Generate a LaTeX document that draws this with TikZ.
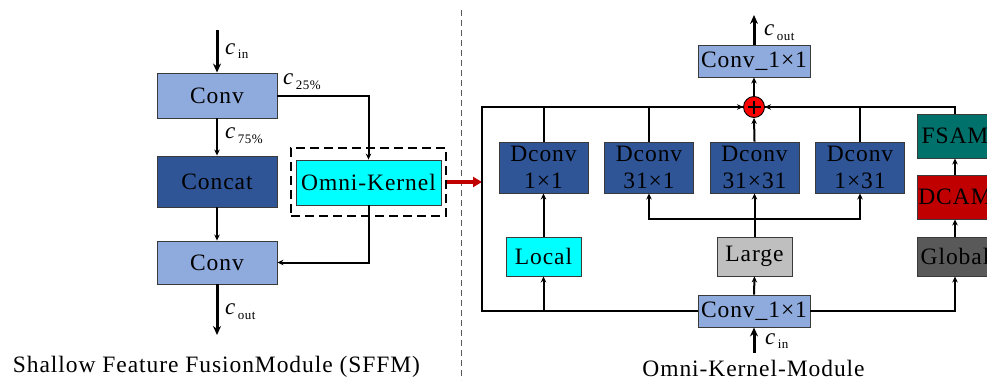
\documentclass[tikz,border=0pt]{standalone}
\usepackage{fontspec}
\setmainfont{Liberation Serif}[LetterSpace=4]
\usetikzlibrary{arrows.meta}
\definecolor{lblue}{HTML}{8FAADC}
\definecolor{dblue}{HTML}{2F5597}
\definecolor{cyanbox}{HTML}{00FFFF}
\definecolor{lgrey}{HTML}{BFBFBF}
\definecolor{dgrey}{HTML}{595959}
\definecolor{tealbox}{HTML}{00716B}
\definecolor{dred}{HTML}{C00000}
\definecolor{edge}{HTML}{3A3A3A}
\newcommand\clab[1]{\textit{c}\hspace{1.5pt}\raisebox{-0.45ex}{\fontsize{13}{13}\selectfont #1}}
\tikzset{
  blk/.style={draw=edge, line width=0.9pt, inner sep=0pt, font=\fontsize{23.5}{27}\selectfont, align=center},
  conn/.style={line width=2pt, -{Stealth[length=6pt,width=5.5pt]}},
  plain/.style={line width=2pt},
  io/.style={line width=3pt, -{Stealth[length=9pt,width=8pt]}},
  lab/.style={anchor=west, inner sep=0pt, font=\fontsize{23}{23}\selectfont},
  title/.style={font=\fontsize{23.5}{26}\selectfont, inner sep=0pt}
}
\begin{document}
\begin{tikzpicture}[x=1pt, y=-1pt]
\useasboundingbox (0,0) rectangle (987,380);
% ---------- left: SFFM ----------
\node[blk, fill=lblue, minimum width=120, minimum height=45] (conv1) at (217,95.5) {Conv};
\node[blk, fill=dblue, minimum width=120, minimum height=51] (concat) at (217,181.5) {Concat};
\node[blk, fill=lblue, minimum width=120, minimum height=43] (conv2) at (217,262.5) {Conv};
\node[blk, fill=cyanbox, minimum width=145, minimum height=45] (omni) at (368.5,182.5) {Omni-Kernel};
\node[draw, dashed, dash pattern=on 9pt off 5pt, line width=1.4pt, minimum width=155, minimum height=68, inner sep=0pt] (okbox) at (368.5,182) {};
\coordinate (cinL) at (217,30);
\coordinate (coutL) at (217,335);
\draw[io] (cinL) -- (conv1.north);
\draw[io] (conv2.south) -- (coutL);
\draw[conn] (conv1.east) -| (omni.north);
\draw[conn] (conv1.south) -- (concat.north);
\draw[conn] (concat.south) -- (conv2.north);
\draw[conn] (omni.south) |- (conv2.east);
\node[lab] (lcin) at (225,51) {\clab{in}};
\node[lab] (l25) at (283,82) {\clab{25\%}};
\node[lab] (l75) at (225,136) {\clab{75\%}};
\node[lab] (lcout) at (225,312) {\clab{out}};
\node[title] (t1) at (216.5,367) {Shallow Feature FusionModule (SFFM)};
% divider
\coordinate (dvt) at (461,10);
\coordinate (dvb) at (461,380);
\draw[gray!70!black, line width=0.9pt, dash pattern=on 6pt off 4pt] (dvt) -- (dvb);
% red arrow
\coordinate (redend) at (482,182);
\draw[dred, line width=3.5pt, -{Triangle[length=9pt,width=10pt]}] (okbox.east) -- (redend);
% ---------- right: Omni-Kernel-Module ----------
\node[blk, fill=lblue, minimum width=112, minimum height=32] (convT) at (754,61) {Conv\_1×1};
\node[circle, draw=black, line width=0.9pt, fill=red, minimum size=21, inner sep=0pt] (plus) at (754,107) {};
\draw[line width=1.4pt] (plus.center) ++(-6.5,0) -- ++(13,0) (plus.center) ++(0,-6.5) -- ++(0,13);
\node[blk, fill=dblue, minimum width=89, minimum height=51] (dc1) at (543.5,167.5) {Dconv\\1×1};
\node[blk, fill=dblue, minimum width=89, minimum height=51] (dc2) at (649,167.5) {Dconv\\31×1};
\node[blk, fill=dblue, minimum width=89, minimum height=51] (dc3) at (754.5,167.5) {Dconv\\31×31};
\node[blk, fill=dblue, minimum width=89, minimum height=51] (dc4) at (860,167.5) {Dconv\\1×31};
\node[blk, fill=tealbox, minimum width=76, minimum height=44] (fsam) at (955,136) {FSAM};
\node[blk, fill=dred, minimum width=76, minimum height=44] (dcam) at (955,197) {DCAM};
\node[blk, fill=dgrey, minimum width=76, minimum height=39] (global) at (955,256.5) {Global};
\node[blk, fill=cyanbox, minimum width=75, minimum height=39] (local) at (543.5,256.5) {Local};
\node[blk, fill=lgrey, minimum width=75, minimum height=39] (large) at (754.5,256.5) {Large};
\node[blk, fill=lblue, minimum width=112, minimum height=32] (convB) at (754,311) {Conv\_1×1};
\coordinate (cinR) at (754,353);
\coordinate (coutR) at (754,15);
\coordinate (lt) at (482,107);
\coordinate (lb) at (482,311);
\coordinate (br) at (754.5,219);
\draw[io] (cinR) -- (convB.south);
\draw[io] (convT.north) -- (coutR);
\draw[conn] (plus.north) -- (convT.south);
\draw[conn] (convB.west) -- (lb) -- (lt) -- (plus.west);
\draw[plain] (dc1.north) |- (plus.west);
\draw[plain] (dc2.north) |- (plus.west);
\draw[conn] (dc3.north) -- (plus.south);
\draw[plain] (dc4.north) |- (plus.east);
\draw[conn] (fsam.north) |- (plus.east);
\draw[conn] (convB.east) -| (global.south);
\draw[conn] (global.north) -- (dcam.south);
\draw[conn] (dcam.north) -- (fsam.south);
\draw[conn] (local.south |- convB.west) -- (local.south);
\draw[conn] (local.north) -- (dc1.south);
\draw[conn] (convB.north) -- (large.south);
\draw[conn] (large.north) -- (dc3.south);
\draw[conn] (br) -| (dc2.south);
\draw[conn] (br) -| (dc4.south);
\node[lab] (rcout) at (764,33) {\clab{out}};
\node[lab] (rcin) at (765,341) {\clab{in}};
\node[title] (t2) at (753.5,368) {Omni-Kernel-Module};
\end{tikzpicture}
\end{document}
